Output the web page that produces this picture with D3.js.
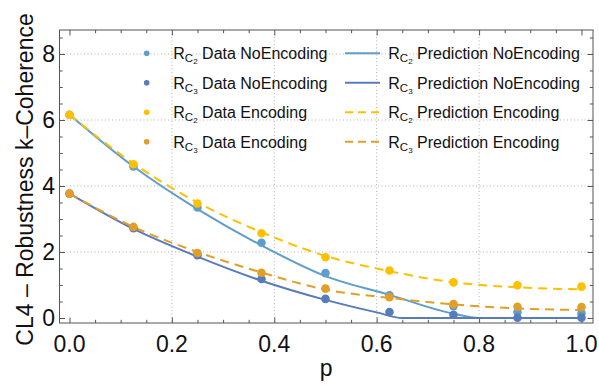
<!DOCTYPE html>
<html><head><meta charset="utf-8">
<script src="https://cdn.jsdelivr.net/npm/d3@7"></script>
<style>body{margin:0;background:#fff}svg{display:block}text{font-family:"Liberation Sans",Arial,sans-serif}</style>
</head><body>
<svg id="c" width="599" height="389"></svg>
<script>
// ---- data ----
const pData = [0, 0.125, 0.25, 0.375, 0.5, 0.625, 0.75, 0.875, 1.0];
const dataC2NoEnc = [6.16, 4.59, 3.35, 2.28, 1.36, 0.69, 0.36, 0.18, 0.14];
const dataC3NoEnc = [3.77, 2.72, 1.90, 1.18, 0.58, 0.18, 0.10, 0.01, 0.01];
const dataC2Enc   = [6.16, 4.66, 3.47, 2.57, 1.84, 1.44, 1.08, 0.99, 0.95];
const dataC3Enc   = [3.77, 2.76, 1.97, 1.37, 0.89, 0.63, 0.42, 0.34, 0.33];

const predC2NoEncP = [0, 0.125, 0.25, 0.375, 0.5, 0.625, 0.75, 0.8, 0.875, 1.0];
const predC2NoEnc  = [6.16, 4.59, 3.30, 2.20, 1.27, 0.70, 0.13, 0, 0, 0];
const predC3NoEncP = [0, 0.125, 0.25, 0.375, 0.5, 0.6, 0.65, 0.8, 1.0];
const predC3NoEnc  = [3.77, 2.70, 1.86, 1.13, 0.55, 0.17, 0, 0, 0];
const predC2EncP   = [0, 0.125, 0.25, 0.375, 0.5, 0.625, 0.75, 0.875, 1.0];
const predC2Enc    = [6.16, 4.68, 3.50, 2.60, 1.88, 1.42, 1.08, 0.93, 0.87];
const predC3EncP   = [0, 0.125, 0.25, 0.375, 0.5, 0.625, 0.75, 0.875, 1.0];
const predC3Enc    = [3.77, 2.76, 2.00, 1.38, 0.86, 0.61, 0.41, 0.29, 0.24];

const xTicks = [0, 0.2, 0.4, 0.6, 0.8, 1.0];
const xTickLabels = ["0.0", "0.2", "0.4", "0.6", "0.8", "1.0"];
const yTicks = [0, 2, 4, 6, 8];
const yTickLabels = ["0", "2", "4", "6", "8"];
const xGrid = [0.2, 0.4, 0.6, 0.8];
const yGrid = [2, 4, 6, 8];

const cLB = "#5e9ecc", cDB = "#587cba", cY = "#ffc000", cO = "#e39e27";

// ---- layout ----
const svg = d3.select("#c");
const L = 59.5, R = 593, T = 30, B = 323;
const x = d3.scaleLinear().domain([-0.0195, 1.0225]).range([L, R]);
const y = d3.scaleLinear().domain([-0.1515, 8.727]).range([B, T]);

// grid
svg.append("g").selectAll("line").data(xGrid).join("line")
  .attr("x1", d => x(d)).attr("x2", d => x(d)).attr("y1", T).attr("y2", B)
  .attr("stroke", "#b0b0b0").attr("stroke-width", 1).attr("stroke-dasharray", "1,2.5");
svg.append("g").selectAll("line").data(yGrid).join("line")
  .attr("y1", d => y(d)).attr("y2", d => y(d)).attr("x1", L).attr("x2", R)
  .attr("stroke", "#b0b0b0").attr("stroke-width", 1).attr("stroke-dasharray", "1,2.5");

// axes (ticks inward)
const xMinor = d3.range(0, 1.0001, 0.05).filter(v => !xTicks.some(t => Math.abs(t - v) < 1e-6));
const yMinor = d3.range(0, 8.6, 0.5).filter(v => !yTicks.some(t => Math.abs(t - v) < 1e-6));
function axisG(axis, tx, ty) {
  const g = svg.append("g").attr("transform", `translate(${tx},${ty})`).call(axis);
  g.selectAll("text").remove();
  g.select(".domain").remove();
  g.selectAll("line").attr("stroke", "#555");
  return g;
}
axisG(d3.axisBottom(x).tickValues(xTicks).tickSize(-5.5), 0, B);
axisG(d3.axisBottom(x).tickValues(xMinor).tickSize(-3.2), 0, B);
axisG(d3.axisTop(x).tickValues(xTicks).tickSize(-5.5), 0, T);
axisG(d3.axisTop(x).tickValues(xMinor).tickSize(-3.2), 0, T);
axisG(d3.axisLeft(y).tickValues(yTicks).tickSize(-5.5), L, 0);
axisG(d3.axisLeft(y).tickValues(yMinor).tickSize(-3.2), L, 0);
axisG(d3.axisRight(y).tickValues(yTicks).tickSize(-5.5), R, 0);
axisG(d3.axisRight(y).tickValues(yMinor).tickSize(-3.2), R, 0);
svg.append("rect").attr("x", L).attr("y", T).attr("width", R - L).attr("height", B - T)
  .attr("fill", "none").attr("stroke", "#555").attr("stroke-width", 1);

// tick labels
svg.append("g").selectAll("text").data(xTicks).join("text")
  .attr("x", d => x(d)).attr("y", 352).attr("text-anchor", "middle")
  .attr("font-size", 23).attr("fill", "#111").text((d, i) => xTickLabels[i]);
svg.append("g").selectAll("text").data(yTicks).join("text")
  .attr("x", 55).attr("y", d => y(d) + 8.3).attr("text-anchor", "end")
  .attr("font-size", 23).attr("fill", "#111").text((d, i) => yTickLabels[i]);

// axis labels
svg.append("text").attr("x", (L + R) / 2).attr("y", 376).attr("text-anchor", "middle")
  .attr("font-size", 23).attr("fill", "#111").text("p");
svg.append("text").attr("transform", `translate(33,${(T + B) / 2 + 3}) rotate(-90)`)
  .attr("text-anchor", "middle").attr("font-size", 23).attr("fill", "#111")
  .text("CL4 – Robustness k–Coherence");

// prediction lines
const line = d3.line().x(d => x(d[0])).y(d => y(d[1])).curve(d3.curveMonotoneX);
const preds = [
  {p: predC2NoEncP, v: predC2NoEnc, c: cLB, dash: null},
  {p: predC3NoEncP, v: predC3NoEnc, c: cDB, dash: null},
  {p: predC2EncP, v: predC2Enc, c: cY, dash: "9,6"},
  {p: predC3EncP, v: predC3Enc, c: cO, dash: "9,6"}
];
preds.forEach(s => {
  svg.append("path").datum(s.p.map((p, i) => [p, s.v[i]]))
    .attr("d", line).attr("fill", "none").attr("stroke", s.c)
    .attr("stroke-width", 2).attr("stroke-dasharray", s.dash);
});

// data points
const series = [
  {v: dataC2NoEnc, c: cLB}, {v: dataC3NoEnc, c: cDB},
  {v: dataC2Enc, c: cY}, {v: dataC3Enc, c: cO}
];
series.forEach(s => {
  svg.append("g").selectAll("circle").data(pData).join("circle")
    .attr("cx", d => x(d)).attr("cy", (d, i) => y(s.v[i])).attr("r", 4.3).attr("fill", s.c);
});

// legend
const legLeft = [
  {c: cLB, sub2: "2", txt: " Data NoEncoding"},
  {c: cDB, sub2: "3", txt: " Data NoEncoding"},
  {c: cY, sub2: "2", txt: " Data Encoding"},
  {c: cO, sub2: "3", txt: " Data Encoding"}
];
const legRight = [
  {c: cLB, sub2: "2", txt: " Prediction NoEncoding", dash: null},
  {c: cDB, sub2: "3", txt: " Prediction NoEncoding", dash: null},
  {c: cY, sub2: "2", txt: " Prediction Encoding", dash: "8,5"},
  {c: cO, sub2: "3", txt: " Prediction Encoding", dash: "8,5"}
];
const rowY = i => 53.3 + i * 29.5;
function legText(xp, yc, item) {
  const t = svg.append("text").attr("x", xp).attr("y", yc + 6).attr("font-size", 16).attr("fill", "#111");
  t.append("tspan").text("R");
  t.append("tspan").attr("font-size", 11.5).attr("dy", 2.8).text("C");
  t.append("tspan").attr("font-size", 8).attr("dy", 2).text(item.sub2);
  t.append("tspan").attr("dy", -4.8).text(item.txt);
}
legLeft.forEach((d, i) => {
  svg.append("circle").attr("cx", 146.7).attr("cy", rowY(i)).attr("r", 2.8).attr("fill", d.c);
  legText(173.3, rowY(i), d);
});
legRight.forEach((d, i) => {
  svg.append("line").attr("x1", 345).attr("x2", 380).attr("y1", rowY(i)).attr("y2", rowY(i))
    .attr("stroke", d.c).attr("stroke-width", 2).attr("stroke-dasharray", d.dash);
  legText(388.3, rowY(i), d);
});
</script>
</body></html>
